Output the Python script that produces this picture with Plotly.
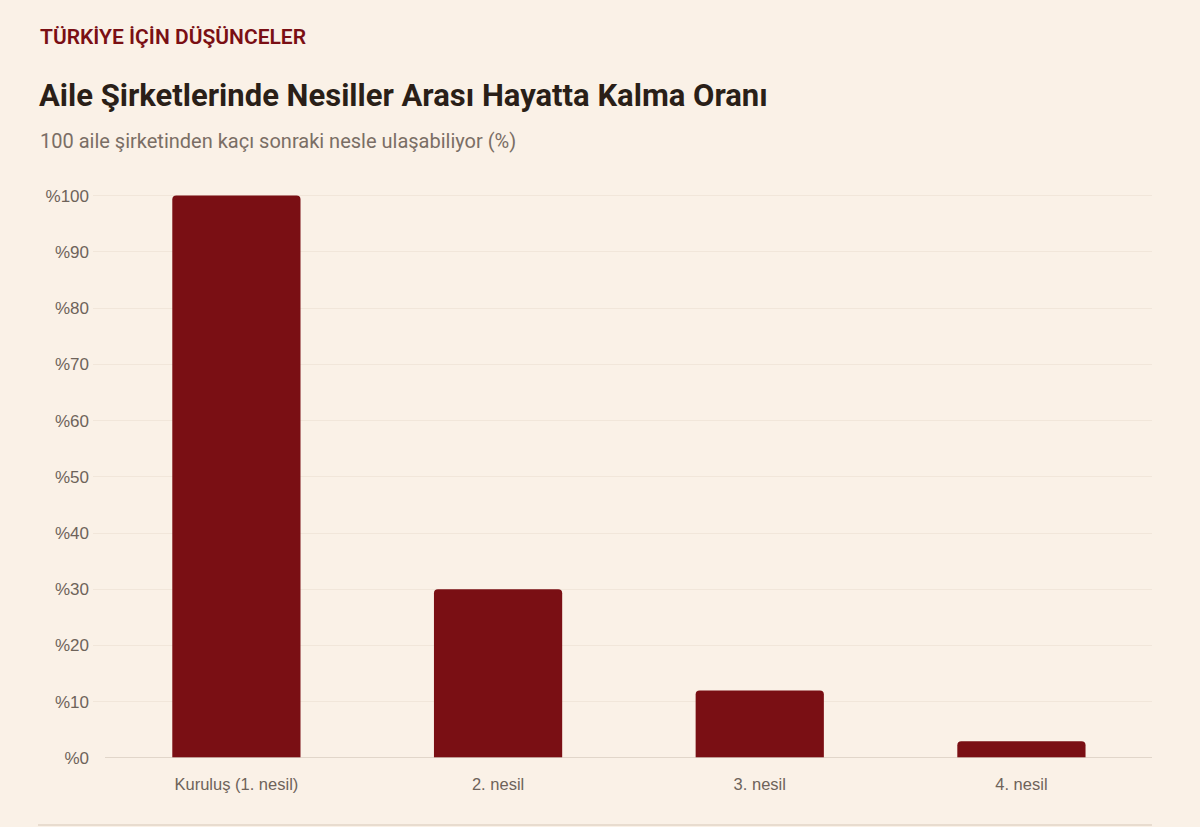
import plotly.graph_objects as go

# veri
categories = ["Kuruluş (1. nesil)", "2. nesil", "3. nesil", "4. nesil"]
survival = [100, 30, 12, 3]
y_ticks = [0, 10, 20, 30, 40, 50, 60, 70, 80, 90, 100]

kicker = "TÜRKİYE İÇİN DÜŞÜNCELER"
title = "Aile Şirketlerinde Nesiller Arası Hayatta Kalma Oranı"
subtitle = "100 aile şirketinden kaçı sonraki nesle ulaşabiliyor (%)"

W, H = 1200, 827
BG = "#faf1e7"
BAR = "#7a0f14"
GRID = "#f1e6da"
TICK = "#6e635a"

# plot area in pixels
left, right, top, bottom = 93, 1152, 190, 758

def px_x(x):
    return (x - left) / (right - left)

def px_y(y):
    return (bottom - y) / (bottom - top)

fig = go.Figure()
fig.add_trace(go.Bar(
    x=list(range(len(categories))), y=survival,
    marker=dict(color=BAR, line=dict(width=0)),
    width=0.49,
    hovertemplate="%{customdata}: %%{y}<extra></extra>",
    customdata=categories,
))

fig.update_layout(
    width=W, height=H,
    paper_bgcolor=BG, plot_bgcolor=BG,
    margin=dict(l=left, r=W - right, t=top, b=H - bottom),
    showlegend=False,
    barcornerradius=4,
    font=dict(family="Liberation Sans, Arial, sans-serif", color=TICK, size=16),
)

fig.update_xaxes(
    range=[-0.548, 3.499],
    tickmode="array", tickvals=list(range(len(categories))), ticktext=categories,
    showgrid=False, zeroline=False, showline=False,
    ticks="", ticklabelstandoff=14,
    tickfont=dict(size=16.5, color=TICK),
)
fig.update_yaxes(
    range=[0, 101],
    tickmode="array", tickvals=y_ticks,
    ticktext=["%" + str(v) for v in y_ticks],
    showgrid=True, gridcolor=GRID, gridwidth=1,
    zeroline=False, showline=False,
    ticks="", ticklabelstandoff=3,
    tickfont=dict(size=17, color=TICK),
)

# x ekseni çizgisi (grafik alanında başlıyor)
fig.add_shape(type="line", xref="paper", yref="y",
              x0=px_x(105), x1=1, y0=0, y1=0,
              line=dict(color="#d9cdc1", width=1.5))

ann = dict(xref="paper", yref="paper", xanchor="left", yanchor="middle", showarrow=False)
fig.add_annotation(x=px_x(38), y=px_y(37), text=kicker,
                   font=dict(family="Roboto", size=21, color=BAR, weight=600), **ann)
fig.add_annotation(x=px_x(37), y=px_y(95), text=title,
                   font=dict(family="Roboto", size=31, color="#2a1f18", weight=700), **ann)
fig.add_annotation(x=px_x(38), y=px_y(141), text=subtitle,
                   font=dict(family="Roboto", size=20, color="#7a6e65"), **ann)

# alt çizgi
fig.add_shape(type="line", xref="paper", yref="paper",
              x0=px_x(38), x1=px_x(1152), y0=px_y(825), y1=px_y(825),
              line=dict(color="#e8dccf", width=2))

fig.write_html("out.html", config={"displayModeBar": False},
               post_script="document.body.style.margin='0';document.body.style.background='%s';" % BG)
